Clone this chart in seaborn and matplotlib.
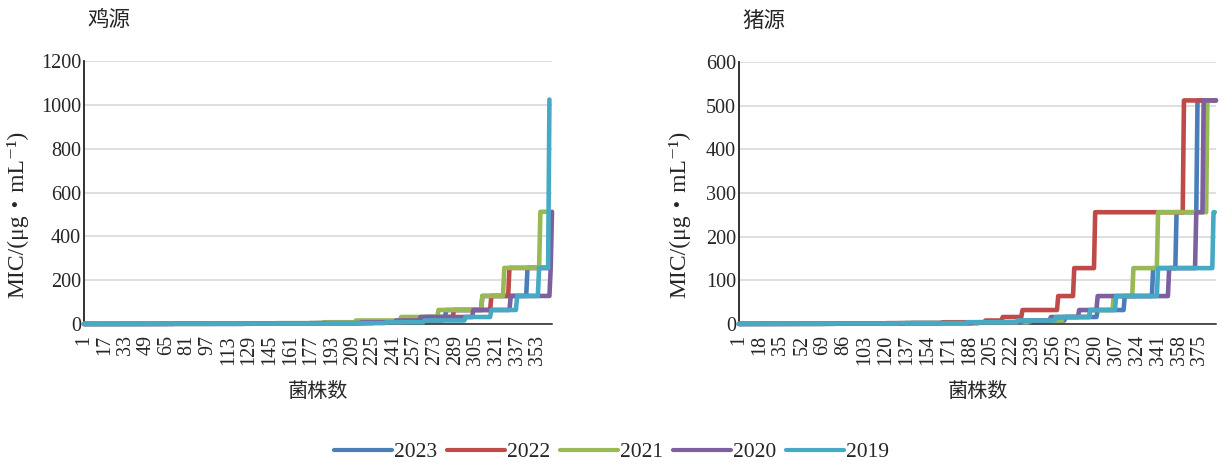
import numpy as np
import pandas as pd
import matplotlib
matplotlib.use("Agg")
import matplotlib.pyplot as plt
from matplotlib.lines import Line2D
import seaborn as sns

# MIC levels (μg/mL) and the number of isolates at each level, per year
mic_levels = [0.25, 0.5, 1, 2, 4, 8, 16, 32, 64, 128, 256, 512, 1024]
years = ["2023", "2022", "2021", "2020", "2019"]
year_colors = ["#4a7ebb", "#be4b48", "#98b954", "#7d60a0", "#46aac5"]

# 鸡源 (chicken-origin isolates)
chicken_2023 = [20, 40, 60, 60, 40, 26, 19, 16, 28, 35, 18, 0, 0]
chicken_2022 = [25, 45, 60, 55, 40, 25, 29, 8, 29, 14, 32, 0, 0]
chicken_2021 = [15, 35, 50, 50, 36, 25, 35, 29, 34, 17, 28, 5, 0]
chicken_2020 = [20, 50, 55, 50, 40, 27, 19, 41, 29, 31, 1, 1, 0]
chicken_2019 = [20, 45, 60, 65, 44, 30, 32, 20, 20, 17, 8, 0, 1]

# 猪源 (pig-origin isolates)
pig_2023 = [30, 50, 60, 55, 42, 28, 26, 22, 23, 19, 17, 15, 0]
pig_2022 = [25, 45, 50, 45, 35, 14, 16, 29, 13, 17, 72, 27, 0]
pig_2021 = [30, 50, 60, 55, 40, 28, 22, 19, 16, 20, 40, 5, 0]
pig_2020 = [25, 50, 60, 55, 40, 23, 23, 15, 58, 22, 6, 11, 0]
pig_2019 = [25, 45, 60, 55, 41, 31, 28, 21, 34, 45, 2, 0, 0]

chicken_yticks = [0, 200, 400, 600, 800, 1000, 1200]
pig_yticks = [0, 100, 200, 300, 400, 500, 600]
chicken_xtick_step = 16
pig_xtick_step = 17


def sorted_mic_frame(series):
    """Long table: isolate rank (1..n) and its MIC, isolates sorted ascending."""
    frames = []
    for year, counts in zip(years, series):
        mic = np.repeat(mic_levels, counts)
        frames.append(pd.DataFrame({"菌株": np.arange(1, len(mic) + 1),
                                    "MIC": mic, "年份": year}))
    return pd.concat(frames, ignore_index=True)


panels = [
    ("鸡源", sorted_mic_frame([chicken_2023, chicken_2022, chicken_2021,
                             chicken_2020, chicken_2019]),
     chicken_yticks, chicken_xtick_step),
    ("猪源", sorted_mic_frame([pig_2023, pig_2022, pig_2021,
                             pig_2020, pig_2019]),
     pig_yticks, pig_xtick_step),
]

sns.set_style("white")
plt.rcParams["font.family"] = ["Liberation Serif", "DejaVu Serif", "Noto Sans CJK SC"]
cjk = ["Noto Sans CJK SC", "DejaVu Sans"]
fs = 14.5

fig = plt.figure(figsize=(12.23, 4.65), dpi=100)
axes_boxes = [(84 / 1223, 1 - 324 / 465, 468 / 1223, 263 / 465),
              (739 / 1223, 1 - 324 / 465, 477 / 1223, 262 / 465)]
ylabel_offsets = [56, 49]

palette = dict(zip(years, year_colors))

for (title, df, yticks, step), box, yoff in zip(panels, axes_boxes, ylabel_offsets):
    ax = fig.add_axes(box)
    n = int(df["菌株"].max())
    sns.lineplot(data=df, x="菌株", y="MIC", hue="年份", hue_order=years,
                 palette=palette, estimator=None, sort=True, legend=False,
                 linewidth=3.3, ax=ax, zorder=3, clip_on=False,
                 solid_capstyle="round", solid_joinstyle="round")
    ax.set_xlim(1, n)
    ax.set_ylim(yticks[0], yticks[-1])
    ax.set_yticks(yticks)
    xt = np.arange(1, n + 1, step)
    ax.set_xticks(xt)
    ax.set_xticklabels([str(v) for v in xt], rotation=90, fontsize=fs)
    ax.tick_params(axis="x", length=0, pad=8)
    ax.tick_params(axis="y", length=0, pad=2, labelsize=fs)
    ax.grid(axis="y", color="#d9d9d9", linewidth=1.2)
    ax.grid(axis="x", visible=False)
    for s in ("top", "right"):
        ax.spines[s].set_visible(False)
    ax.spines["left"].set_color("#222222")
    ax.spines["left"].set_linewidth(1.3)
    ax.spines["bottom"].set_color("#222222")
    ax.spines["bottom"].set_linewidth(1.1)
    ax.set_xlabel("菌株数", family=cjk, fontsize=fs, labelpad=11)
    ax.set_ylabel("MIC/(μg・mL⁻¹)", fontsize=17)
    ax.yaxis.set_label_coords(-yoff / (box[2] * 1223), 0.418)
    ax.text(0.008, 1.155, title, transform=ax.transAxes, family=cjk,
            fontsize=15.5, ha="left", va="center")

handles = [Line2D([], [], color=c, linewidth=3.0, solid_capstyle="round")
           for c in year_colors]
fig.legend(handles, years, loc="center", bbox_to_anchor=(0.5, 1 - 452 / 465),
           ncol=5, frameon=False, fontsize=15.5, handlelength=2.7,
           handletextpad=0.1, columnspacing=0.45)

fig.savefig("out.png", dpi=100)
